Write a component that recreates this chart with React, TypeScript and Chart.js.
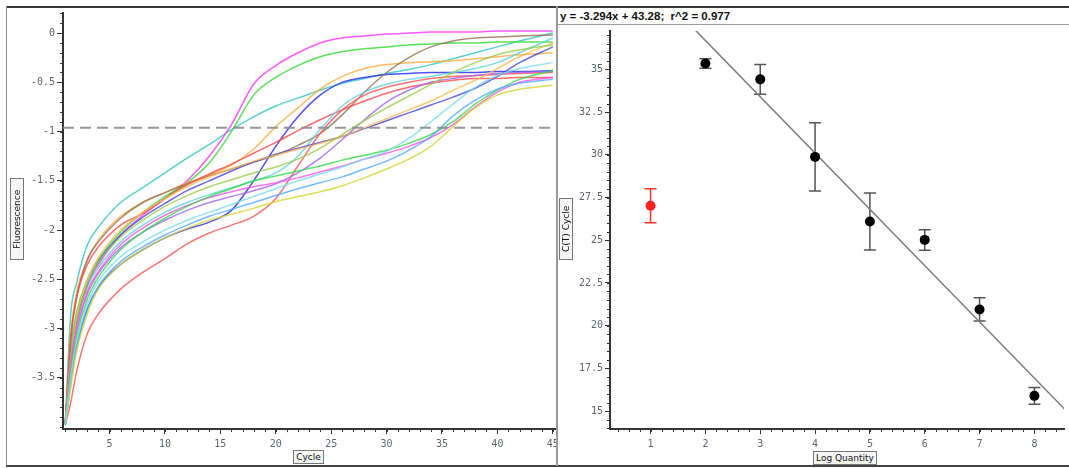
import React, { useEffect, useRef } from 'react';
import { Chart, registerables } from 'chart.js';

Chart.register(...registerables);

// ---------- Left chart data (amplification curves) ----------
const cycles = [1, 1.5, 2, 3, 4, 6, 8, 10, 12, 14, 16, 18, 20, 22, 24, 26, 28, 30, 32, 34, 36, 38, 40, 42, 45];

const cyanA = [-3.98, -2.85, -2.55, -2.15, -1.97, -1.72, -1.57, -1.42, -1.27, -1.13, -0.98, -0.85, -0.74, -0.66, -0.58, -0.51, -0.46, -0.41, -0.37, -0.32, -0.26, -0.2, -0.14, -0.08, 0.0];
const magentaA = [-3.98, -3.25, -2.9, -2.55, -2.35, -2.05, -1.85, -1.68, -1.5, -1.25, -0.93, -0.52, -0.33, -0.2, -0.1, -0.05, -0.03, -0.01, 0, 0.01, 0.01, 0.01, 0.02, 0.02, 0.02];
const greenA = [-3.98, -3.2, -2.85, -2.5, -2.3, -2.02, -1.82, -1.66, -1.52, -1.32, -1.0, -0.63, -0.45, -0.33, -0.24, -0.19, -0.16, -0.14, -0.12, -0.11, -0.1, -0.1, -0.09, -0.09, -0.09];
const brownA = [-3.98, -3.1, -2.7, -2.3, -2.12, -1.88, -1.72, -1.62, -1.53, -1.45, -1.38, -1.31, -1.24, -1.14, -1.02, -0.83, -0.6, -0.4, -0.25, -0.14, -0.08, -0.05, -0.04, -0.03, -0.02];
const blueA = [-3.98, -3.55, -3.2, -2.8, -2.58, -2.35, -2.2, -2.08, -1.99, -1.92, -1.8, -1.5, -1.15, -0.85, -0.63, -0.5, -0.45, -0.42, -0.41, -0.4, -0.4, -0.4, -0.39, -0.39, -0.38];
const blueB = [-3.98, -3.3, -2.95, -2.55, -2.32, -2.05, -1.87, -1.73, -1.6, -1.5, -1.4, -1.31, -1.23, -1.17, -1.11, -1.05, -0.97, -0.89, -0.81, -0.73, -0.65, -0.56, -0.44, -0.3, -0.14];
const redA = [-3.98, -3.1, -2.7, -2.35, -2.17, -1.95, -1.83, -1.68, -1.54, -1.43, -1.33, -1.22, -1.11, -0.99, -0.88, -0.78, -0.69, -0.61, -0.55, -0.51, -0.48, -0.46, -0.46, -0.45, -0.45];
const redB = [-3.98, -3.75, -3.45, -3.05, -2.85, -2.6, -2.43, -2.29, -2.14, -2.03, -1.95, -1.86, -1.68, -1.35, -1.02, -0.78, -0.63, -0.55, -0.5, -0.46, -0.44, -0.43, -0.42, -0.41, -0.4];
const orangeA = [-3.98, -3.05, -2.65, -2.3, -2.1, -1.86, -1.72, -1.62, -1.52, -1.44, -1.34, -1.18, -0.95, -0.76, -0.57, -0.44, -0.36, -0.32, -0.3, -0.29, -0.28, -0.26, -0.24, -0.22, -0.2];
const orangeB = [-3.98, -3.3, -2.9, -2.5, -2.28, -2.0, -1.82, -1.68, -1.56, -1.46, -1.38, -1.3, -1.24, -1.18, -1.12, -1.05, -0.96, -0.87, -0.78, -0.69, -0.58, -0.48, -0.36, -0.24, -0.1];
const yellowA = [-3.98, -3.6, -3.25, -2.85, -2.6, -2.35, -2.2, -2.08, -1.98, -1.9, -1.84, -1.78, -1.71, -1.66, -1.61, -1.55, -1.47, -1.38, -1.28, -1.15, -0.95, -0.76, -0.63, -0.57, -0.53];
const lightBlueA = [-3.98, -3.55, -3.2, -2.8, -2.57, -2.32, -2.17, -2.05, -1.95, -1.86, -1.79, -1.72, -1.65, -1.58, -1.52, -1.46, -1.38, -1.3, -1.19, -1.05, -0.84, -0.68, -0.57, -0.51, -0.47];
const greenB = [-3.98, -3.45, -3.1, -2.7, -2.48, -2.2, -2.02, -1.88, -1.76, -1.66, -1.58, -1.5, -1.45, -1.4, -1.35, -1.29, -1.24, -1.19, -1.12, -1.03, -0.9, -0.72, -0.58, -0.47, -0.38];
const magentaB = [-3.98, -3.35, -3.0, -2.62, -2.42, -2.15, -1.98, -1.85, -1.75, -1.67, -1.61, -1.56, -1.52, -1.47, -1.41, -1.35, -1.28, -1.22, -1.15, -1.06, -0.93, -0.75, -0.6, -0.5, -0.45];
const cyanB = [-3.98, -3.3, -2.95, -2.58, -2.38, -2.12, -1.95, -1.82, -1.72, -1.64, -1.57, -1.5, -1.42, -1.25, -0.98, -0.74, -0.6, -0.52, -0.47, -0.44, -0.4, -0.36, -0.3, -0.2, -0.05];
const purpleA = [-3.98, -3.4, -3.05, -2.65, -2.44, -2.18, -2.02, -1.9, -1.8, -1.72, -1.66, -1.6, -1.53, -1.42, -1.27, -1.08, -0.88, -0.7, -0.58, -0.5, -0.46, -0.43, -0.41, -0.4, -0.39];
const yellowGreenA = [-3.98, -3.3, -2.95, -2.55, -2.33, -2.07, -1.9, -1.76, -1.65, -1.56, -1.49, -1.42, -1.36, -1.28, -1.17, -1.03, -0.89, -0.76, -0.64, -0.52, -0.4, -0.3, -0.22, -0.17, -0.12];
const cyanC = [-3.98, -3.5, -3.15, -2.75, -2.52, -2.27, -2.12, -2.0, -1.9, -1.82, -1.74, -1.66, -1.58, -1.5, -1.43, -1.36, -1.28, -1.2, -1.07, -0.9, -0.72, -0.55, -0.43, -0.36, -0.3];

const threshold = -0.96;

const leftYTicks = [0, -0.5, -1, -1.5, -2, -2.5, -3, -3.5];
const leftXTicks = [5, 10, 15, 20, 25, 30, 35, 40, 45];

// ---------- Right chart data (standard curve) ----------
const logQuantity = [1, 2, 3, 4, 5, 6, 7, 8];
const ctMean = [27.02, 35.35, 34.42, 29.88, 26.1, 25.02, 20.95, 15.89];
const ctErr = [1.0, 0.28, 0.87, 2.0, 1.67, 0.6, 0.68, 0.49];
const outlierFlags = [true, false, false, false, false, false, false, false];
const fitSlope = -3.294;
const fitIntercept = 43.28;
const fitR2 = 0.977;
const fitXRange = [1.5, 8.6];

const rightYTicks = [15, 17.5, 20, 22.5, 25, 27.5, 30, 32.5, 35];
const rightXTicks = [1, 2, 3, 4, 5, 6, 7, 8];

// ---------- styles ----------
const curveList = [
  { v: cyanC, c: 'rgba(120,220,235,0.8)' },
  { v: yellowA, c: 'rgba(215,215,60,0.85)' },
  { v: lightBlueA, c: 'rgba(80,170,255,0.8)' },
  { v: greenB, c: 'rgba(50,220,70,0.8)' },
  { v: magentaB, c: 'rgba(255,80,230,0.8)' },
  { v: yellowGreenA, c: 'rgba(150,205,70,0.8)' },
  { v: orangeB, c: 'rgba(255,185,80,0.8)' },
  { v: blueB, c: 'rgba(70,70,220,0.8)' },
  { v: purpleA, c: 'rgba(160,100,240,0.8)' },
  { v: cyanB, c: 'rgba(90,210,220,0.8)' },
  { v: redB, c: 'rgba(255,90,90,0.85)' },
  { v: redA, c: 'rgba(250,70,70,0.8)' },
  { v: brownA, c: 'rgba(150,120,90,0.85)' },
  { v: orangeA, c: 'rgba(255,170,60,0.8)' },
  { v: blueA, c: 'rgba(50,50,240,0.85)' },
  { v: greenA, c: 'rgba(60,220,60,0.85)' },
  { v: magentaA, c: 'rgba(255,60,255,0.85)' },
  { v: cyanA, c: 'rgba(60,200,200,0.85)' },
];

const tickFont = { family: 'DejaVu Sans Mono', size: 10 };
const tickColor = '#5f6470';

const minorTicksPlugin = {
  id: 'minorTicks',
  afterDraw(chart: any, _args: any, opts: any) {
    const ctx = chart.ctx;
    const xs = chart.scales.x;
    const ys = chart.scales.y;
    ctx.save();
    ctx.strokeStyle = '#333';
    ctx.lineWidth = 1;
    const nY = Math.floor((ys.max - ys.min) / opts.yStep + 1e-6);
    const y0 = Math.ceil(ys.min / opts.yStep - 1e-6);
    for (let i = 0; i <= nY + 1; i++) {
      const v = (y0 + i) * opts.yStep;
      if (v > ys.max + 1e-9) break;
      const py = Math.round(ys.getPixelForValue(v)) + 0.5;
      ctx.beginPath();
      ctx.moveTo(ys.right - opts.len, py);
      ctx.lineTo(ys.right, py);
      ctx.stroke();
    }
    const x0 = Math.ceil(xs.min / opts.xStep - 1e-6);
    for (let i = 0; i < 1000; i++) {
      const v = (x0 + i) * opts.xStep;
      if (v > xs.max + 1e-9) break;
      const px = Math.round(xs.getPixelForValue(v)) + 0.5;
      ctx.beginPath();
      ctx.moveTo(px, xs.top);
      ctx.lineTo(px, xs.top + opts.len);
      ctx.stroke();
    }
    ctx.restore();
  },
};

const errorBarsPlugin = {
  id: 'errorBars',
  beforeDatasetsDraw(chart: any) {
    const ctx = chart.ctx;
    const xs = chart.scales.x;
    const ys = chart.scales.y;
    ctx.save();
    ctx.lineWidth = 1.5;
    logQuantity.forEach((q, i) => {
      const px = xs.getPixelForValue(q);
      const top = ys.getPixelForValue(ctMean[i] + ctErr[i]);
      const bot = ys.getPixelForValue(ctMean[i] - ctErr[i]);
      ctx.strokeStyle = outlierFlags[i] ? '#ff3030' : '#555';
      ctx.beginPath();
      ctx.moveTo(px, top);
      ctx.lineTo(px, bot);
      ctx.moveTo(px - 6, top);
      ctx.lineTo(px + 6, top);
      ctx.moveTo(px - 6, bot);
      ctx.lineTo(px + 6, bot);
      ctx.stroke();
    });
    ctx.restore();
  },
};

function axisCommon(ticksArr: number[], fitFn: (s: any) => void, min: number, max: number) {
  return {
    type: 'linear' as const,
    min,
    max,
    afterBuildTicks: (s: any) => {
      s.ticks = ticksArr.map((v) => ({ value: v }));
    },
    afterFit: fitFn,
    border: { display: true, color: '#333', width: 2 },
    grid: { display: true, drawOnChartArea: false, drawTicks: true, tickLength: 6, color: '#333', lineWidth: 1 },
    ticks: {
      font: tickFont,
      color: tickColor,
      autoSkip: false,
      maxRotation: 0,
      padding: 2,
      callback: (v: any) => String(v),
    },
  };
}

function LeftChart() {
  const ref = useRef<HTMLCanvasElement>(null);
  useEffect(() => {
    if (!ref.current) return;
    const datasets: any[] = curveList.map((cv) => ({
      data: cycles.map((c, i) => ({ x: c, y: cv.v[i] })),
      borderColor: cv.c,
      borderWidth: 1.5,
      pointRadius: 0,
      cubicInterpolationMode: 'monotone',
      fill: false,
      order: 2,
    }));
    datasets.push({
      data: [{ x: 0.8, y: threshold }, { x: 45.2, y: threshold }],
      borderColor: 'rgba(140,140,140,0.9)',
      borderWidth: 2,
      borderDash: [11, 6],
      pointRadius: 0,
      fill: false,
      order: 1,
    });
    const xAxis: any = axisCommon(leftXTicks, (s: any) => { s.height = 37; s.paddingLeft = 0; s.paddingRight = 0; }, 0.8, 45.2);
    xAxis.ticks.padding = 4;
    xAxis.grid.tickLength = 5;
    const yAxis: any = axisCommon(leftYTicks, (s: any) => { s.width = 56; s.paddingTop = 0; s.paddingBottom = 0; }, -4.02, 0.204);
    const chart = new Chart(ref.current, {
      type: 'line',
      data: { datasets },
      options: {
        animation: false,
        responsive: false,
        maintainAspectRatio: false,
        devicePixelRatio: 1,
        layout: { padding: { top: 6, right: 1, left: 0, bottom: 0 } },
        plugins: { legend: { display: false }, tooltip: { enabled: false }, minorTicks: { xStep: 1, yStep: 0.1, len: 3 } } as any,
        scales: { x: xAxis, y: yAxis },
      },
      plugins: [minorTicksPlugin],
    });
    return () => chart.destroy();
  }, []);
  return <canvas ref={ref} width={549} height={459} style={{ position: 'absolute', left: 7, top: 7, width: 549, height: 459 }} />;
}

function RightChart() {
  const ref = useRef<HTMLCanvasElement>(null);
  useEffect(() => {
    if (!ref.current) return;
    const normalPts = logQuantity.map((q, i) => ({ x: q, y: ctMean[i] })).filter((_, i) => !outlierFlags[i]);
    const outlierPts = logQuantity.map((q, i) => ({ x: q, y: ctMean[i] })).filter((_, i) => outlierFlags[i]);
    const fitPts = fitXRange.map((x) => ({ x, y: fitSlope * x + fitIntercept }));
    const xAxis: any = axisCommon(rightXTicks, (s: any) => { s.height = 37; s.paddingLeft = 0; s.paddingRight = 0; }, 0.26, 8.54);
    xAxis.ticks.padding = 4;
    xAxis.grid.tickLength = 5;
    const yAxis: any = axisCommon(rightYTicks, (s: any) => { s.width = 52; s.paddingTop = 0; s.paddingBottom = 0; }, 13.95, 37.25);
    yAxis.grid.tickLength = 5;
    const chart = new Chart(ref.current, {
      type: 'scatter',
      data: {
        datasets: [
          { data: normalPts, backgroundColor: '#000', borderColor: '#000', pointRadius: 5, pointBorderWidth: 0, order: 1 } as any,
          { data: outlierPts, backgroundColor: '#ff2020', borderColor: '#ff2020', pointRadius: 5, pointBorderWidth: 0, order: 1 } as any,
          { data: fitPts, showLine: true, borderColor: '#7a7a7a', borderWidth: 1.5, pointRadius: 0, order: 2 } as any,
        ],
      },
      options: {
        animation: false,
        responsive: false,
        maintainAspectRatio: false,
        devicePixelRatio: 1,
        layout: { padding: { top: 4, right: 0, left: 0, bottom: 0 } },
        plugins: { legend: { display: false }, tooltip: { enabled: false }, minorTicks: { xStep: 0.2, yStep: 0.5, len: 3 } } as any,
        scales: { x: xAxis, y: yAxis },
      },
      plugins: [minorTicksPlugin, errorBarsPlugin],
    });
    return () => chart.destroy();
  }, []);
  return <canvas ref={ref} width={511} height={440} style={{ position: 'absolute', left: 558, top: 26, width: 511, height: 440 }} />;
}

const boxLabel: React.CSSProperties = {
  position: 'absolute',
  border: '1px solid #777',
  background: '#f6f6f6',
  fontFamily: 'DejaVu Sans, sans-serif',
  fontSize: 9,
  color: '#111',
  textAlign: 'center',
  boxSizing: 'border-box',
  whiteSpace: 'nowrap',
  overflow: 'hidden',
};

export default function App() {
  const title = `y = ${fitSlope}x + ${fitIntercept};  r^2 = ${fitR2}`;
  return (
    <div style={{ position: 'absolute', left: 0, top: 0, width: 1069, height: 468, background: '#fff', overflow: 'hidden' }}>
      {/* frame */}
      <div style={{ position: 'absolute', left: 6, top: 6, width: 1063, height: 2, background: '#3a3a3a' }} />
      <div style={{ position: 'absolute', left: 6, top: 6, width: 1, height: 460, background: '#8a8a8a' }} />
      <div style={{ position: 'absolute', left: 6, top: 465, width: 1063, height: 2, background: '#444' }} />
      <div style={{ position: 'absolute', left: 556, top: 6, width: 2, height: 460, background: '#9a9a9a' }} />
      {/* right title strip */}
      <div style={{ position: 'absolute', left: 558, top: 8, width: 511, height: 17, borderBottom: '1px solid #999', boxSizing: 'border-box' }} />
      <div style={{ position: 'absolute', left: 560, top: 8, height: 16, lineHeight: '16px', fontFamily: 'Liberation Sans, Arial, sans-serif', fontWeight: 'bold', fontSize: 11.5, color: '#111', whiteSpace: 'pre' }}>{title}</div>
      <LeftChart />
      <RightChart />
      {/* axis title boxes */}
      <div style={{ ...boxLabel, left: 10, top: 178, width: 14, height: 82, writingMode: 'vertical-rl', transform: 'rotate(180deg)', lineHeight: '12px' }}>Fluorescence</div>
      <div style={{ ...boxLabel, left: 293, top: 450, width: 31, height: 14, lineHeight: '12px' }}>Cycle</div>
      <div style={{ ...boxLabel, left: 559, top: 198, width: 14, height: 62, writingMode: 'vertical-rl', transform: 'rotate(180deg)', lineHeight: '12px' }}>C(T) Cycle</div>
      <div style={{ ...boxLabel, left: 813, top: 451, width: 64, height: 14, lineHeight: '12px' }}>Log Quantity</div>
    </div>
  );
}
